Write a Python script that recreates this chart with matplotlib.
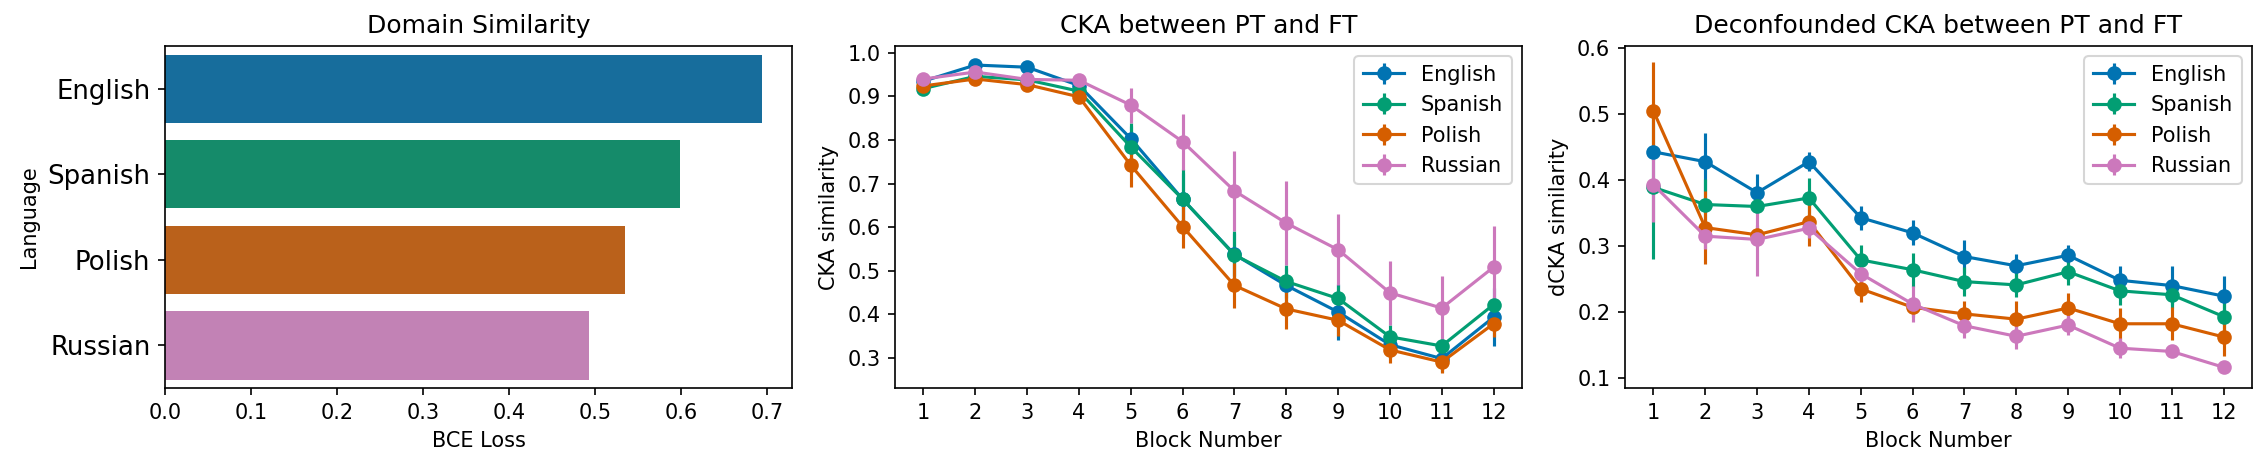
import numpy as np
import matplotlib
matplotlib.use('Agg')
import matplotlib.pyplot as plt
import seaborn as sns

languages = ['English', 'Spanish', 'Polish', 'Russian']
bce_loss = [0.694, 0.598, 0.534, 0.493]

blocks = list(range(1, 13))

# CKA between PT and FT (mean, std per block)
cka_english = [0.935, 0.972, 0.967, 0.925, 0.803, 0.664, 0.537, 0.466, 0.405, 0.330, 0.298, 0.393]
cka_spanish = [0.918, 0.946, 0.938, 0.912, 0.784, 0.664, 0.536, 0.475, 0.436, 0.348, 0.327, 0.422]
cka_polish = [0.924, 0.940, 0.927, 0.899, 0.742, 0.601, 0.466, 0.412, 0.386, 0.318, 0.290, 0.378]
cka_russian = [0.940, 0.956, 0.939, 0.937, 0.880, 0.796, 0.683, 0.609, 0.548, 0.449, 0.414, 0.508]

cka_english_std = [0.010, 0.008, 0.008, 0.015, 0.030, 0.060, 0.050, 0.040, 0.064, 0.030, 0.030, 0.066]
cka_spanish_std = [0.008, 0.006, 0.006, 0.010, 0.054, 0.070, 0.054, 0.038, 0.030, 0.028, 0.015, 0.015]
cka_polish_std = [0.010, 0.008, 0.008, 0.010, 0.050, 0.050, 0.052, 0.047, 0.036, 0.031, 0.024, 0.030]
cka_russian_std = [0.010, 0.008, 0.006, 0.008, 0.040, 0.064, 0.091, 0.097, 0.081, 0.074, 0.073, 0.094]

# deconfounded CKA
dcka_english = [0.443, 0.428, 0.381, 0.428, 0.343, 0.320, 0.284, 0.270, 0.286, 0.248, 0.240, 0.224]
dcka_spanish = [0.389, 0.363, 0.360, 0.373, 0.279, 0.264, 0.246, 0.241, 0.261, 0.232, 0.226, 0.193]
dcka_polish = [0.505, 0.328, 0.317, 0.337, 0.235, 0.207, 0.197, 0.189, 0.206, 0.182, 0.182, 0.162]
dcka_russian = [0.393, 0.315, 0.310, 0.327, 0.258, 0.212, 0.179, 0.163, 0.180, 0.145, 0.140, 0.116]

dcka_english_std = [0.008, 0.044, 0.028, 0.014, 0.018, 0.019, 0.025, 0.018, 0.016, 0.022, 0.029, 0.030]
dcka_spanish_std = [0.109, 0.038, 0.010, 0.031, 0.023, 0.026, 0.022, 0.019, 0.020, 0.022, 0.020, 0.020]
dcka_polish_std = [0.075, 0.055, 0.015, 0.037, 0.020, 0.015, 0.020, 0.028, 0.022, 0.024, 0.025, 0.029]
dcka_russian_std = [0.057, 0.020, 0.055, 0.015, 0.015, 0.027, 0.019, 0.020, 0.015, 0.015, 0.007, 0.008]

cb = sns.color_palette('colorblind')
colors = [cb[0], cb[2], cb[3], cb[4]]
bar_colors = [sns.desaturate(c, 0.75) for c in colors]

my_dpi = 150
fig, axes = plt.subplots(1, 3, figsize=(2267 / my_dpi, 467 / my_dpi), dpi=my_dpi)
fig.subplots_adjust(left=0.0728, right=0.9934, bottom=0.169, top=0.9015, wspace=0.164)

# --- domain similarity bars ---
ax = axes[0]
ypos = np.arange(len(languages))
ax.barh(ypos, bce_loss, height=0.8, color=bar_colors)
ax.set_yticks(ypos)
ax.set_yticklabels(languages, fontsize=12.5)
ax.set_ylim(len(languages) - 0.5, -0.5)
ax.set_xlabel('BCE Loss')
ax.set_ylabel('Language')
ax.set_title('Domain Similarity')

# --- CKA ---
cka = [(cka_english, cka_english_std), (cka_spanish, cka_spanish_std),
       (cka_polish, cka_polish_std), (cka_russian, cka_russian_std)]
dcka = [(dcka_english, dcka_english_std), (dcka_spanish, dcka_spanish_std),
        (dcka_polish, dcka_polish_std), (dcka_russian, dcka_russian_std)]

for ax, series, ylabel, title in [
        (axes[1], cka, 'CKA similarity', 'CKA between PT and FT'),
        (axes[2], dcka, 'dCKA similarity', 'Deconfounded CKA between PT and FT')]:
    for lang, (mean, std), c in zip(languages, series, colors):
        ax.errorbar(blocks, mean, yerr=std, marker='o', color=c, label=lang)
    ax.set_xticks(blocks)
    ax.set_xlabel('Block Number')
    ax.set_ylabel(ylabel)
    ax.set_title(title)
    ax.legend(loc='upper right')

fig.savefig('out.png', dpi=my_dpi)
